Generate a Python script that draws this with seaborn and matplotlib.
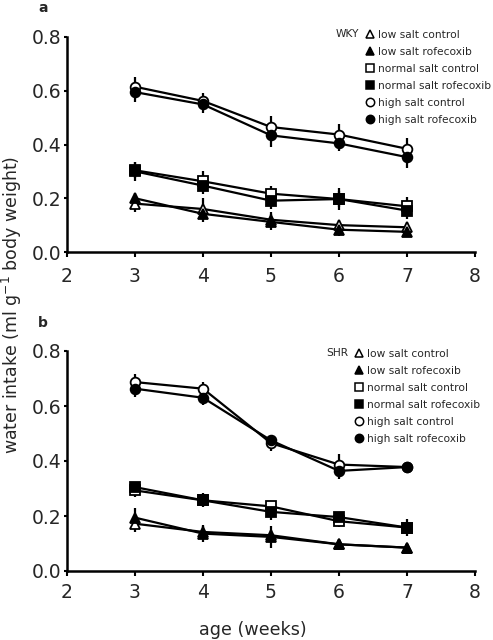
import numpy as np
import pandas as pd
import matplotlib
matplotlib.use("Agg")
import matplotlib.pyplot as plt
import seaborn as sns
from matplotlib.lines import Line2D

weeks = [3, 4, 5, 6, 7]
series = ["low salt control", "low salt rofecoxib", "normal salt control",
          "normal salt rofecoxib", "high salt control", "high salt rofecoxib"]

# WKY (panel a)
wky_lsc = [0.18, 0.16, 0.12, 0.10, 0.092]
wky_lsr = [0.20, 0.142, 0.112, 0.083, 0.075]
wky_nsc = [0.304, 0.263, 0.217, 0.197, 0.170]
wky_nsr = [0.300, 0.247, 0.191, 0.197, 0.154]
wky_hsc = [0.615, 0.562, 0.465, 0.437, 0.384]
wky_hsr = [0.595, 0.549, 0.434, 0.404, 0.353]
wky_err = {
    "low salt control": [0.03, 0.04, 0.03, 0.02, 0.02],
    "low salt rofecoxib": [0.02, 0.03, 0.03, 0.025, 0.02],
    "normal salt control": [0.03, 0.04, 0.03, 0.03, 0.035],
    "normal salt rofecoxib": [0.035, 0.03, 0.03, 0.04, 0.03],
    "high salt control": [0.035, 0.03, 0.04, 0.04, 0.04],
    "high salt rofecoxib": [0.035, 0.03, 0.045, 0.03, 0.04],
}

# SHR (panel b)
shr_lsc = [0.172, 0.142, 0.130, 0.097, 0.085]
shr_lsr = [0.194, 0.136, 0.124, 0.097, 0.085]
shr_nsc = [0.293, 0.257, 0.235, 0.181, 0.158]
shr_nsr = [0.305, 0.257, 0.215, 0.196, 0.158]
shr_hsc = [0.687, 0.663, 0.465, 0.387, 0.378]
shr_hsr = [0.663, 0.630, 0.475, 0.364, 0.378]
shr_err = {
    "low salt control": [0.03, 0.02, 0.02, 0.015, 0.015],
    "low salt rofecoxib": [0.035, 0.03, 0.04, 0.02, 0.015],
    "normal salt control": [0.025, 0.02, 0.02, 0.02, 0.02],
    "normal salt rofecoxib": [0.02, 0.025, 0.03, 0.02, 0.03],
    "high salt control": [0.03, 0.025, 0.03, 0.04, 0.02],
    "high salt rofecoxib": [0.03, 0.025, 0.02, 0.03, 0.02],
}

marker_map = {"low salt control": ("^", "white"), "low salt rofecoxib": ("^", "black"),
              "normal salt control": ("s", "white"), "normal salt rofecoxib": ("s", "black"),
              "high salt control": ("o", "white"), "high salt rofecoxib": ("o", "black")}

sns.set_theme(style="ticks")
plt.rcParams['font.family'] = ['DejaVu Sans']

fig = plt.figure(figsize=(4.93, 6.4), dpi=100)
ax_a = fig.add_axes([67/493, 1-252/640, (475-67)/493, 215/640])
ax_b = fig.add_axes([67/493, 1-571/640, (475-67)/493, 220/640])


def draw_panel(ax, vals, errs, strain, leg_xy, strain_x, xpad):
    for nome, y in zip(series, vals):
        mk, fc = marker_map[nome]
        ax.errorbar(weeks, y, yerr=errs[nome], fmt='none', ecolor='black',
                    elinewidth=1.6, capsize=0, zorder=2)
        sns.lineplot(x=weeks, y=y, ax=ax, color='black', lw=1.6, marker=mk,
                     markersize=7 if mk != 's' else 6.5, markerfacecolor=fc,
                     markeredgecolor='black', markeredgewidth=1.3, zorder=3)
    ax.set_xlim(2, 8)
    ax.set_ylim(0, 0.8)
    ax.set_xticks([2, 3, 4, 5, 6, 7, 8])
    ax.set_yticks([0.0, 0.2, 0.4, 0.6, 0.8])
    ax.yaxis.set_major_formatter(matplotlib.ticker.FormatStrFormatter('%.1f'))
    ax.tick_params(labelsize=13.5, width=1.5, color='black')
    ax.tick_params(axis='x', length=3.5, pad=xpad)
    ax.tick_params(axis='y', length=2.5, pad=1.5)
    for s in ['left', 'bottom']:
        ax.spines[s].set_linewidth(1.8)
        ax.spines[s].set_color('black')
    sns.despine(ax=ax)
    ax.set_xlabel('')
    ax.set_ylabel('')
    handles = [Line2D([], [], ls='none', marker=marker_map[n][0], markersize=6,
                      markerfacecolor=marker_map[n][1], markeredgecolor='black',
                      markeredgewidth=1.1) for n in series]
    ax.legend(handles, series, loc='upper left', frameon=False, fontsize=7.7,
              bbox_to_anchor=(leg_xy[0]/493, 1-(leg_xy[1]-4)/640),
              bbox_transform=fig.transFigure, borderpad=0, borderaxespad=0,
              handlelength=0.8, handletextpad=0.35, labelspacing=0.65)
    fig.text(strain_x/493, 1-leg_xy[1]/640, strain, fontsize=7.7,
             va='center', ha='right')


draw_panel(ax_a, [wky_lsc, wky_lsr, wky_nsc, wky_nsr, wky_hsc, wky_hsr],
           wky_err, 'WKY', (366, 34), 359, 7)
draw_panel(ax_b, [shr_lsc, shr_lsr, shr_nsc, shr_nsr, shr_hsc, shr_hsr],
           shr_err, 'SHR', (355, 353), 348, 5)

fig.text(38/493, 1-8/640, 'a', fontsize=10, fontweight='bold', va='center')
fig.text(38/493, 1-323/640, 'b', fontsize=10, fontweight='bold', va='center')
fig.text(12/493, 1-305/640, 'water intake (ml g$^{-1}$ body weight)', rotation=90,
         fontsize=12.5, va='center', ha='center')
fig.text(253/493, 1-630/640, 'age (weeks)', fontsize=12.6, va='center', ha='center')

fig.savefig('out.png', dpi=100)
